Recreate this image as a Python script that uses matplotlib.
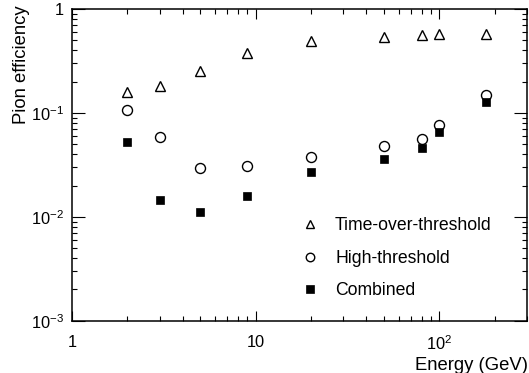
import matplotlib
matplotlib.use("Agg")
import matplotlib.pyplot as plt
from matplotlib.ticker import FixedLocator, FixedFormatter, LogLocator, NullFormatter

plt.rcParams['font.family'] = ['Liberation Sans', 'DejaVu Sans']
plt.rcParams['mathtext.fontset'] = 'custom'
plt.rcParams['mathtext.rm'] = 'Liberation Sans'
plt.rcParams['mathtext.it'] = 'Liberation Sans:italic'
plt.rcParams['mathtext.bf'] = 'Liberation Sans:bold'

energy = [2, 3, 5, 9, 20, 50, 80, 100, 180]
tot_eff = [0.16, 0.18, 0.255, 0.374, 0.495, 0.533, 0.566, 0.574, 0.574]
high_eff = [0.106, 0.0589, 0.0292, 0.0307, 0.0378, 0.0482, 0.056, 0.0758, 0.148]
comb_eff = [0.0527, 0.01445, 0.011, 0.016, 0.0267, 0.0359, 0.0455, 0.0649, 0.126]

labels = ["Time-over-threshold", "High-threshold", "Combined"]
xticks = [1, 10, 100]
xticklabels = ["1", "10", r"$10^{2}$"]
yticks = [1e-3, 1e-2, 1e-1, 1]
yticklabels = [r"$10^{-3}$", r"$10^{-2}$", r"$10^{-1}$", "1"]

W, H = 529, 373
AX_L, AX_R, AX_T, AX_B = 72, 527, 9, 320.7
AW, AH = AX_R - AX_L, AX_B - AX_T
fig = plt.figure(figsize=(W / 100, H / 100), dpi=100)
ax = fig.add_axes([AX_L / W, (H - AX_B) / H, AW / W, AH / H])

ax.plot(energy, tot_eff, linestyle='none', marker='^', markersize=7.5,
        markerfacecolor='white', markeredgecolor='black', markeredgewidth=1.0,
        label=labels[0])
ax.plot(energy, high_eff, linestyle='none', marker='o', markersize=7.2,
        markerfacecolor='white', markeredgecolor='black', markeredgewidth=1.0,
        label=labels[1])
ax.plot(energy, comb_eff, linestyle='none', marker='s', markersize=6.3,
        markerfacecolor='black', markeredgecolor='black', markeredgewidth=0.5,
        label=labels[2])

ax.set_xscale('log')
ax.set_yscale('log')
ax.set_xlim(1, 300)
ax.set_ylim(1e-3, 1)

ax.xaxis.set_major_locator(FixedLocator(xticks))
ax.xaxis.set_major_formatter(FixedFormatter(xticklabels))
ax.xaxis.set_minor_locator(LogLocator(base=10, subs=range(2, 10)))
ax.xaxis.set_minor_formatter(NullFormatter())
ax.yaxis.set_major_locator(FixedLocator(yticks))
ax.yaxis.set_major_formatter(FixedFormatter(yticklabels))
ax.yaxis.set_minor_locator(LogLocator(base=10, subs=range(2, 10)))
ax.yaxis.set_minor_formatter(NullFormatter())

ax.tick_params(which='both', direction='in', top=True, right=True,
               width=0.8, color='black', labelsize=11.8)
ax.xaxis.set_tick_params(which='major', length=7.2, pad=10)
ax.xaxis.set_tick_params(which='minor', length=3.5)
ax.yaxis.set_tick_params(which='major', length=9.4, pad=6)
ax.yaxis.set_tick_params(which='minor', length=3.8)

for s in ax.spines.values():
    s.set_linewidth(1.1)

ax.set_ylabel("Pion efficiency", fontsize=13.3, loc='top')
ax.yaxis.set_label_coords(-(AX_L - 30) / AW, 1 + (AX_T - 5) / AH)
ax.set_xlabel("Energy (GeV)", fontsize=13.3, loc='right')
ax.xaxis.set_label_coords((528 - AX_L) / AW, -(357 - AX_B) / AH)

leg = ax.legend(loc='upper left',
                bbox_to_anchor=((301.2 - AX_L) / AW, 1 - (217.5 - AX_T) / AH),
                frameon=False, fontsize=12.7, markerscale=0.85, handlelength=1.0,
                handletextpad=0.92, labelspacing=0.87, borderpad=0, borderaxespad=0)

fig.savefig("out.png", dpi=100)
